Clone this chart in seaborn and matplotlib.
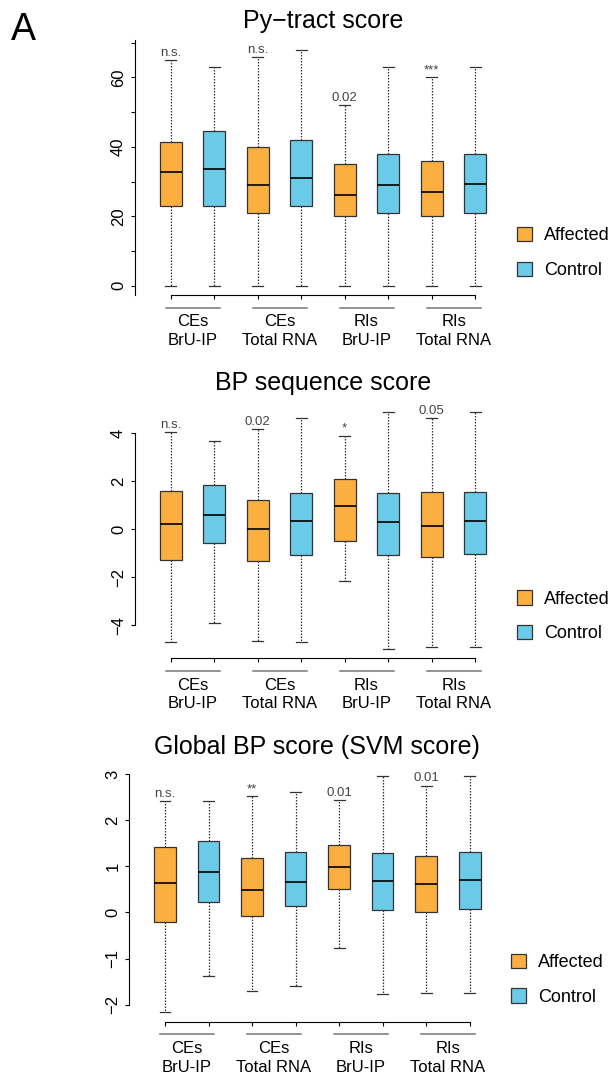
import numpy as np
import pandas as pd
import seaborn as sns
import matplotlib.pyplot as plt
from matplotlib.patches import Patch
from matplotlib.transforms import blended_transform_factory

# box order: CEs BrU-IP (A, C), CEs Total RNA (A, C), RIs BrU-IP (A, C), RIs Total RNA (A, C)
groups = ['CEs\nBrU-IP', 'CEs\nTotal RNA', 'RIs\nBrU-IP', 'RIs\nTotal RNA']
kinds = ['Affected', 'Control'] * 4

# five-number summaries: min, q1, median, q3, max
py_min = [0, 0, 0, 0, 0, 0, 0, 0]
py_q1 = [23.0, 23.0, 21.0, 23.0, 20.0, 21.0, 20.0, 21.0]
py_med = [32.8, 33.5, 29.0, 31.0, 26.0, 29.0, 27.0, 29.3]
py_q3 = [41.5, 44.5, 40.0, 42.0, 35.0, 38.0, 36.0, 38.0]
py_max = [65, 63, 66, 68, 52, 63, 60, 63]
py_sig = ['n.s.', '', 'n.s.', '', '0.02', '', '***', '']

bp_min = [-4.69, -3.92, -4.64, -4.69, -2.15, -4.99, -4.90, -4.90]
bp_q1 = [-1.29, -0.57, -1.31, -1.08, -0.50, -1.07, -1.14, -1.03]
bp_med = [0.24, 0.58, 0.03, 0.33, 0.96, 0.32, 0.15, 0.36]
bp_q3 = [1.58, 1.86, 1.21, 1.50, 2.08, 1.53, 1.54, 1.57]
bp_max = [4.04, 3.68, 4.19, 4.65, 3.90, 4.88, 4.65, 4.88]
bp_sig = ['n.s.', '', '0.02', '', '*', '', '0.05', '']

svm_min = [-2.16, -1.38, -1.71, -1.59, -0.76, -1.77, -1.74, -1.74]
svm_q1 = [-0.20, 0.23, -0.07, 0.13, 0.50, 0.06, 0.02, 0.08]
svm_med = [0.63, 0.88, 0.48, 0.67, 0.98, 0.69, 0.62, 0.71]
svm_q3 = [1.42, 1.55, 1.18, 1.30, 1.47, 1.28, 1.23, 1.30]
svm_max = [2.42, 2.42, 2.52, 2.62, 2.43, 2.96, 2.75, 2.96]
svm_sig = ['n.s.', '', '**', '', '0.01', '', '0.01', '']

colors = {'Affected': '#FBAF40', 'Control': '#6BCAE8'}

plt.rcParams['font.family'] = ['Liberation Sans', 'DejaVu Sans']


def make_frame(mins, q1s, meds, q3s, maxs):
    rows = []
    for i in range(8):
        # five points give exactly these quartiles with linear percentiles
        for v in (mins[i], q1s[i], meds[i], q3s[i], maxs[i]):
            rows.append({'pos': i, 'kind': kinds[i], 'value': v})
    return pd.DataFrame(rows)


def draw_panel(ax, title, df, maxs, sigs, lo, hi, ticks, labels, spine_lo, spine_hi):
    sns.boxplot(data=df, x='pos', y='value', hue='kind', palette=colors,
                dodge=False, width=0.5, whis=(0, 100), saturation=1,
                linecolor='#333333', linewidth=0.9, legend=False, ax=ax,
                whiskerprops={'linestyle': (0, (1.2, 1.2))},
                medianprops={'color': 'black', 'linewidth': 1.2})
    ax.set_xlim(-0.82, 7.82)
    ax.set_ylim(lo, hi)
    ax.set_title(title, fontsize=18, pad=9)
    ax.set_xlabel('')
    ax.set_ylabel('')

    for s in ['top', 'right']:
        ax.spines[s].set_visible(False)
    ax.spines['left'].set_bounds(spine_lo, spine_hi)
    ax.spines['bottom'].set_bounds(0, 7)
    for s in ['left', 'bottom']:
        ax.spines[s].set_linewidth(0.8)

    ax.set_yticks(ticks)
    ax.set_yticklabels(labels, rotation=90, va='center', fontsize=12)
    ax.tick_params(axis='y', length=3, width=0.8, pad=3.5)

    ax.set_xticks(range(8))
    ax.set_xticklabels([''] * 8)
    ax.tick_params(axis='x', length=3, width=0.8, direction='out')
    ax.set_xticks([0.5, 2.5, 4.5, 6.5], minor=True)
    ax.set_xticklabels(groups, minor=True, fontsize=12, linespacing=1.3)
    ax.tick_params(axis='x', which='minor', length=0, pad=14)

    trans = blended_transform_factory(ax.transData, ax.transAxes)
    for g in range(4):
        ax.plot([2 * g - 0.11, 2 * g + 1.13], [-0.05, -0.05], color='#777777',
                linewidth=1.1, transform=trans, clip_on=False)

    for i, s in enumerate(sigs):
        if s:
            ax.annotate(s, (i, maxs[i]), xytext=(0, 3), textcoords='offset points',
                        ha='center', va='baseline', fontsize=9.5, color='#444444',
                        annotation_clip=False)

    handles = [Patch(facecolor=colors[k], edgecolor='#333333', linewidth=0.9, label=k)
               for k in ['Affected', 'Control']]
    ax.legend(handles=handles, loc='center left', bbox_to_anchor=(1.015, 0.165),
              frameon=False, fontsize=13, handlelength=0.85, handleheight=0.85,
              handletextpad=0.65, labelspacing=0.95, borderpad=0, borderaxespad=0)


fig = plt.figure(figsize=(6.12, 10.75), dpi=100)
ax1 = fig.add_axes([0.2206, 0.7256, 0.6144, 0.2369])
ax2 = fig.add_axes([0.2206, 0.3876, 0.6144, 0.2376])
ax3 = fig.add_axes([0.2113, 0.0496, 0.6144, 0.2375])

draw_panel(ax1, 'Py\u2212tract score', make_frame(py_min, py_q1, py_med, py_q3, py_max),
           py_max, py_sig, -2.72, 70.72, range(0, 71, 10),
           ['0', '', '20', '', '40', '', '60', ''], -2.72, 70.72)
draw_panel(ax2, 'BP sequence score', make_frame(bp_min, bp_q1, bp_med, bp_q3, bp_max),
           bp_max, bp_sig, -5.38, 5.27, [-4, -2, 0, 2, 4],
           ['\u22124', '\u22122', '0', '2', '4'], -4, 4)
draw_panel(ax3, 'Global BP score (SVM score)', make_frame(svm_min, svm_q1, svm_med, svm_q3, svm_max),
           svm_max, svm_sig, -2.365, 3.165, [-2, -1, 0, 1, 2, 3],
           ['\u22122', '\u22121', '0', '1', '2', '3'], -2, 3)

fig.text(0.018, 1 - 40 / 1075, 'A', fontsize=27, va='baseline', ha='left')

fig.savefig('out.png', dpi=100)
